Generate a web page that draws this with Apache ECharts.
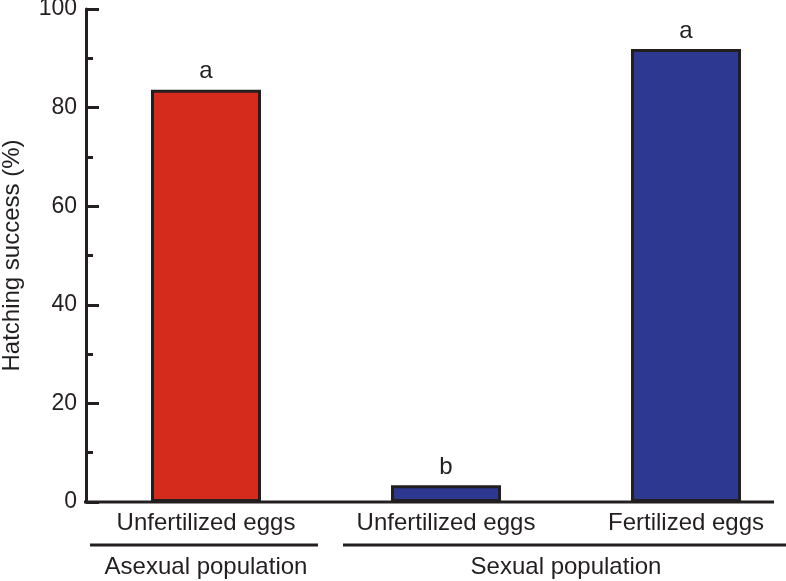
<!DOCTYPE html>
<html>
<head>
<meta charset="utf-8">
<script src="https://cdn.jsdelivr.net/npm/echarts@6/dist/echarts.min.js"></script>
<style>
html,body{margin:0;padding:0;background:#fff;}
#chart{width:786px;height:581px;}
</style>
</head>
<body>
<div id="chart"></div>
<script>
var categories = ['Unfertilized eggs', 'Unfertilized eggs', 'Fertilized eggs'];
var hatchingSuccess = [83.6, 3.4, 91.9];
var letters = ['a', 'b', 'a'];
var barColors = ['#d42b1d', '#2d3990', '#2d3990'];
var groups = ['Asexual population', 'Sexual population'];
var yTicks = [0, 20, 40, 60, 80, 100];

var FONT = 'Liberation Sans, Arial, Helvetica, sans-serif';
var INK = '#231f20';
var chart = echarts.init(document.getElementById('chart'));

var option = {
  animation: false,
  grid: {left: 86, right: -20, top: 9, bottom: 79, containLabel: false, outerBoundsMode: 'none'},
  xAxis: {
    type: 'category',
    data: categories,
    axisLine: {show: false},
    axisTick: {show: false},
    axisLabel: {color: INK, fontFamily: FONT, fontSize: 24, margin: 9, interval: 0, hideOverlap: false}
  },
  yAxis: {
    type: 'value',
    min: yTicks[0],
    max: yTicks[yTicks.length - 1],
    interval: 20,
    name: 'Hatching success (%)',
    nameLocation: 'middle',
    nameGap: 62,
    nameTextStyle: {color: INK, fontFamily: FONT, fontSize: 24},
    splitLine: {show: false},
    axisLine: {show: true, lineStyle: {color: INK, width: 3}},
    axisTick: {show: true, inside: true, length: 13, lineStyle: {color: INK, width: 3}},
    minorTick: {show: true, splitNumber: 2, length: 7, lineStyle: {color: INK, width: 3}},
    axisLabel: {color: INK, fontFamily: FONT, fontSize: 23, margin: 9}
  },
  series: [{
    type: 'bar',
    barWidth: 110,
    data: hatchingSuccess.map(function (v, i) {
      return {value: v, itemStyle: {color: barColors[i]}};
    }),
    itemStyle: {borderColor: INK, borderWidth: 3},
    label: {
      show: true,
      position: 'top',
      distance: 6,
      color: INK,
      fontFamily: FONT,
      fontSize: 24,
      formatter: function (p) { return letters[p.dataIndex]; }
    }
  }]
};
chart.setOption(option);

function drawExtras() {
  var x0 = chart.convertToPixel({xAxisIndex: 0}, 0);
  var x1 = chart.convertToPixel({xAxisIndex: 0}, 1);
  var x2 = chart.convertToPixel({xAxisIndex: 0}, 2);
  var yBase = chart.convertToPixel({yAxisIndex: 0}, 0);
  var lineY = 545, textY = 567;
  chart.setOption({
    graphic: [
      {type: 'line', shape: {x1: 84, y1: yBase, x2: 774, y2: yBase}, style: {stroke: INK, lineWidth: 3}, z: 10},
      {type: 'line', shape: {x1: 90, y1: lineY, x2: 318, y2: lineY}, style: {stroke: INK, lineWidth: 3}},
      {type: 'line', shape: {x1: 343, y1: lineY, x2: 786, y2: lineY}, style: {stroke: INK, lineWidth: 3}},
      {type: 'text', x: x0, y: textY, style: {text: groups[0], font: '24px ' + FONT, fill: INK, textAlign: 'center', textVerticalAlign: 'middle'}},
      {type: 'text', x: (x1 + x2) / 2, y: textY, style: {text: groups[1], font: '24px ' + FONT, fill: INK, textAlign: 'center', textVerticalAlign: 'middle'}}
    ]
  });
}
drawExtras();
</script>
</body>
</html>
